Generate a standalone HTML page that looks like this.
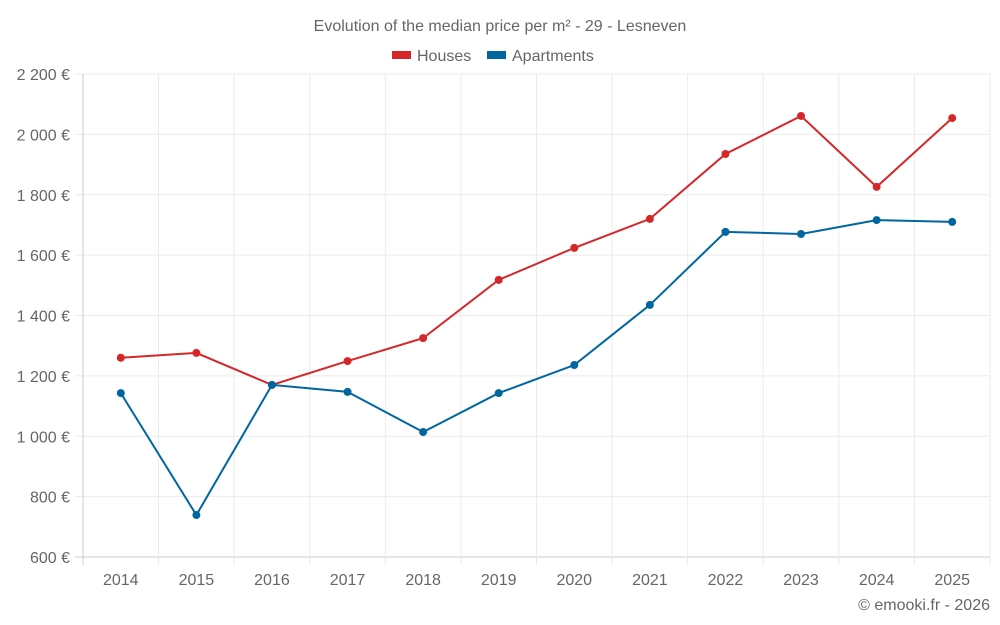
<!DOCTYPE html>
<html><head><meta charset="utf-8"><style>
body{margin:0;background:#fff;}
svg{display:block;font-family:"Liberation Sans",sans-serif;}
</style></head><body>
<svg id="chart" width="1000" height="625">
<text x="500" y="31" text-anchor="middle" font-size="16" fill="#666">Evolution of the median price per m² - 29 - Lesneven</text>
<g>
<g><rect x="392" y="51" width="19" height="8" fill="#d62728"/><text x="417" y="61" font-size="16" fill="#666">Houses</text></g>
<g><rect x="487" y="51" width="19" height="8" fill="#0066a0"/><text x="512" y="61" font-size="16" fill="#666">Apartments</text></g>
</g>
<g id="grid"></g><g id="axes"></g><g id="series"></g>
<text x="990" y="610" text-anchor="end" font-size="16" fill="#666">© emooki.fr - 2026</text>
</svg>
<script>
const years=[2014,2015,2016,2017,2018,2019,2020,2021,2022,2023,2024,2025];
const houses=[1260,1276,1170,1249,1325,1518,1624,1720,1935,2061,1826,2054];
const apartments=[1143,739,1170,1147,1014,1143,1236,1435,1677,1670,1716,1710];
const yTicks=[600,800,1000,1200,1400,1600,1800,2000,2200];
const L=83,R=990,T=74,B=557,yMin=600,yMax=2200;
const ns="http://www.w3.org/2000/svg";
const cw=(R-L)/years.length;
function x(i){return L+cw*(i+0.5);}
function y(v){return B-(v-yMin)/(yMax-yMin)*(B-T);}
function mk(t,a,p){const e=document.createElementNS(ns,t);for(const k in a)e.setAttribute(k,a[k]);p.appendChild(e);return e;}
const g=document.getElementById('grid'),ax=document.getElementById('axes'),s=document.getElementById('series');
yTicks.forEach(v=>{
const l=mk('line',{x1:L-8,x2:R,y1:y(v),y2:y(v),stroke:v===yMin?'#ccc':'#ebebeb'},g);


const t=mk('text',{x:70,y:y(v)+6,'text-anchor':'end','font-size':16,fill:'#666'},ax);
t.textContent=v.toLocaleString('en-US').replace(',','\u00a0')+' €';


});
for(let i=0;i<=years.length;i++){
const l=mk('line',{x1:L+cw*i,x2:L+cw*i,y1:T,y2:B+8,stroke:i===0?'#ccc':'#ebebeb'},g);


}
years.forEach((yr,i)=>{
const t=mk('text',{x:x(i),y:585,'text-anchor':'middle','font-size':16,fill:'#666'},ax);
t.textContent=yr;


});
function draw(data,color,name){
const p=mk('polyline',{points:data.map((v,i)=>x(i)+','+y(v)).join(' '),fill:'none',stroke:color,'stroke-width':2},s);


data.forEach((v,i)=>{
const c=mk('circle',{cx:x(i),cy:y(v),r:4,fill:color},s);


});
}
draw(houses,'#d62728','houses');
draw(apartments,'#0066a0','apartments');
</script>
</body></html>
